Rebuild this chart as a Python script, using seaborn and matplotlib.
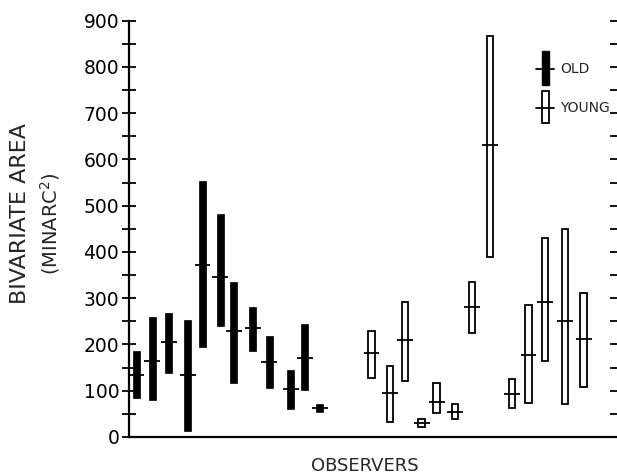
import matplotlib
matplotlib.use("Agg")
import matplotlib.pyplot as plt
from matplotlib.patches import Rectangle
from matplotlib.lines import Line2D
from matplotlib.ticker import MultipleLocator
import seaborn as sns
import pandas as pd

# ---- data ----
old_pos = [0, 0.96, 1.96, 3.1, 3.98, 5.04, 5.86, 7.0, 7.98, 9.26, 10.1, 11.0]
old_low = [84, 81, 139, 13, 194, 240, 117, 186, 107, 61, 101, 55]
old_high = [186, 260, 267, 253, 553, 483, 335, 281, 218, 145, 244, 71]
old_mean = [135, 165, 206, 134, 371, 346, 229, 236, 163, 103, 171, 63]

young_pos = [14.1, 15.2, 16.1, 17.1, 18.0, 19.1, 20.1, 21.2, 22.5, 23.5, 24.5, 25.7, 26.8]
young_low = [128, 33, 122, 21, 51, 38, 225, 389, 62, 74, 164, 71, 109]
young_high = [229, 153, 292, 38, 117, 71, 335, 866, 125, 285, 431, 450, 312]
young_mean = [182, 96, 209, 30, 76, 55, 280, 632, 93, 177, 292, 251, 211]

y_ticks = [0, 100, 200, 300, 400, 500, 600, 700, 800, 900]

old = pd.DataFrame({"x": old_pos, "low": old_low, "high": old_high, "mean": old_mean})
young = pd.DataFrame({"x": young_pos, "low": young_low, "high": young_high, "mean": young_mean})

sns.set_theme(style="ticks")
plt.rcParams["font.family"] = ["DejaVu Sans"]

fig = plt.figure(figsize=(6.17, 4.75), dpi=100)
ax = fig.add_axes([129 / 617, 38 / 475, 1 - 129 / 617, 416.3 / 475])

bar_w = 0.42
tick_w = 0.95

ax.bar(old["x"], old["high"] - old["low"], bottom=old["low"], width=bar_w,
       color="black", edgecolor="black", linewidth=0.5, zorder=2)
ax.hlines(old["mean"], old["x"] - tick_w / 2, old["x"] + tick_w / 2,
          color="black", linewidth=1.3, zorder=3)

ax.bar(young["x"], young["high"] - young["low"], bottom=young["low"], width=0.38,
       facecolor="white", edgecolor="black", linewidth=1.3, zorder=2)
ax.hlines(young["mean"], young["x"] - tick_w / 2, young["x"] + tick_w / 2,
          color="black", linewidth=1.3, zorder=3)

ax.set_xlim(-0.42, 28.8)
ax.set_ylim(0, 900)
ax.set_xticks([])
ax.set_yticks(y_ticks)
ax.set_yticklabels([str(v) for v in y_ticks], fontsize=13.5)
ax.yaxis.set_minor_locator(MultipleLocator(50))
ax.tick_params(axis="y", which="both", direction="inout", length=10, width=1.3,
               left=True, right=True, pad=2, colors="black")
ax.tick_params(axis="y", which="both", right=True)
for t in ax.yaxis.get_major_ticks() + ax.yaxis.get_minor_ticks():
    t.tick2line.set_markersize(5)
    t.tick2line.set_marker(matplotlib.markers.TICKLEFT)

for s in ["left", "bottom"]:
    ax.spines[s].set_linewidth(1.6)
    ax.spines[s].set_color("black")
ax.spines["top"].set_visible(False)
ax.spines["right"].set_visible(False)

fig.text(20 / 617, 1 - 214 / 475, "BIVARIATE AREA", rotation=90, fontsize=16,
         ha="center", va="center")
fig.text(50 / 617, 1 - 224 / 475, "(MINARC$^2$)", rotation=90, fontsize=14,
         ha="center", va="center")
fig.text(365 / 617, 1 - 466 / 475, "OBSERVERS", fontsize=13, ha="center", va="center")

# legend
lx = 0.854
lw = 0.0143
ax.add_patch(Rectangle((lx - lw / 2, 0.846), lw, 0.082, transform=ax.transAxes,
                       facecolor="black", edgecolor="black", linewidth=1, clip_on=False))
ax.add_line(Line2D([lx - 0.02, lx + 0.017], [0.883, 0.883], transform=ax.transAxes,
                   color="black", linewidth=1.3))
ax.add_patch(Rectangle((lx - lw / 2, 0.755), lw, 0.077, transform=ax.transAxes,
                       facecolor="white", edgecolor="black", linewidth=1.3, clip_on=False))
ax.add_line(Line2D([lx - 0.02, lx + 0.017], [0.790, 0.790], transform=ax.transAxes,
                   color="black", linewidth=1.3))
ax.text(0.884, 0.883, "OLD", transform=ax.transAxes, fontsize=10, va="center", ha="left")
ax.text(0.884, 0.790, "YOUNG", transform=ax.transAxes, fontsize=10, va="center", ha="left")

fig.savefig("out.png", dpi=100)
